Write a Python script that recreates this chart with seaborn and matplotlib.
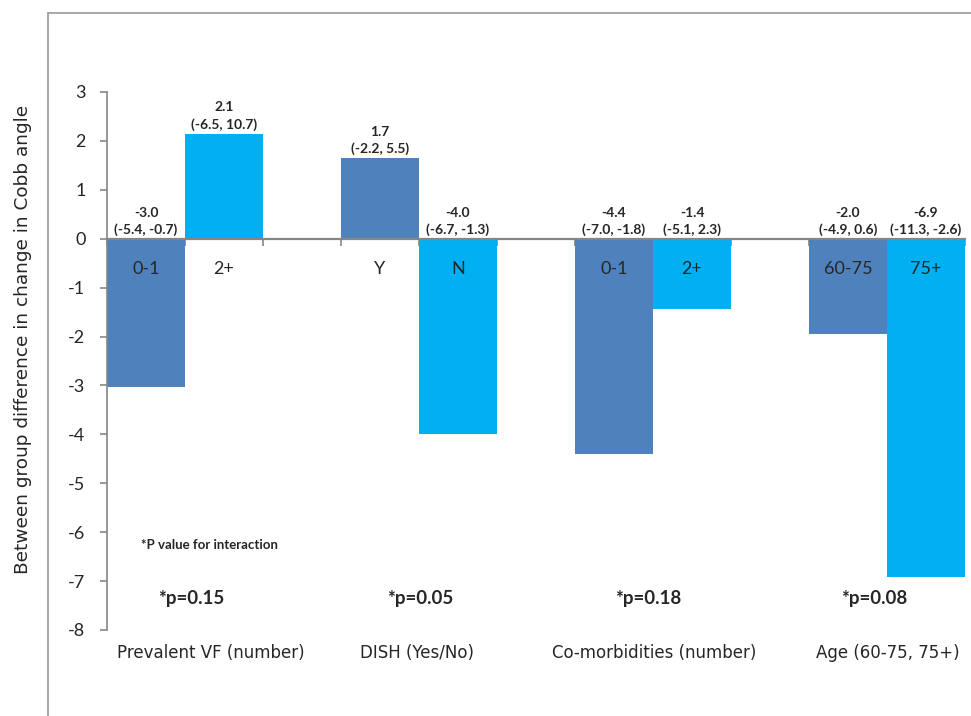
import numpy as np
import pandas as pd
import matplotlib
matplotlib.use("Agg")
import matplotlib.pyplot as plt
from matplotlib.lines import Line2D
import seaborn as sns

# ---- data ----
groups = ["Prevalent VF (number)", "DISH (Yes/No)", "Co-morbidities (number)", "Age (60-75, 75+)"]
levels = [["0-1", "2+"], ["Y", "N"], ["0-1", "2+"], ["60-75", "75+"]]
values = [[-3.03, 2.15], [1.65, -3.99], [-4.40, -1.43], [-1.95, -6.91]]
estimates = [["-3.0", "2.1"], ["1.7", "-4.0"], ["-4.4", "-1.4"], ["-2.0", "-6.9"]]
cis = [["(-5.4, -0.7)", "(-6.5, 10.7)"], ["(-2.2, 5.5)", "(-6.7, -1.3)"],
       ["(-7.0, -1.8)", "(-5.1, 2.3)"], ["(-4.9, 0.6)", "(-11.3, -2.6)"]]
pvalues = ["*p=0.15", "*p=0.05", "*p=0.18", "*p=0.08"]
yticks = list(range(-8, 4))

# layout offsets (pixels) for the text boxes under each group
p_dx = [6, 1, -5, -13]
g_dx = [26, -2, 1, 1]

rows = []
for g, grp in enumerate(groups):
    for k in range(2):
        rows.append(dict(pos=g * 3 + k, value=values[g][k], shade=k,
                         level=levels[g][k], est=estimates[g][k], ci=cis[g][k], group=grp))
df = pd.DataFrame(rows)

sns.set_theme(style="white")
plt.rcParams["font.family"] = ["Lato", "DejaVu Sans"]

fig = plt.figure(figsize=(9.71, 7.16), dpi=100)
ax = fig.add_axes([107 / 971, 1 - 630 / 716, (965 - 107) / 971, (630 - 92) / 716])

sns.barplot(data=df, x="pos", y="value", hue="shade", palette=["#4F81BD", "#00B0F0"],
            native_scale=True, width=1.0, dodge=False, saturation=1, legend=False, ax=ax,
            linewidth=0, errorbar=None)

ax.set_xlim(-0.5, 10.5)
ax.set_ylim(-8, 3)
ax.set_yticks(yticks)
ax.set_yticklabels([str(t) for t in yticks], fontsize=13)
gray = "#868686"
for s in ["top", "right"]:
    ax.spines[s].set_visible(False)
ax.spines["left"].set_color(gray)
ax.spines["left"].set_linewidth(1.2)
ax.spines["bottom"].set_position(("data", 0))
ax.spines["bottom"].set_color(gray)
ax.spines["bottom"].set_linewidth(1.6)
ax.set_xticks(np.arange(-0.5, 11, 1.0))
ax.set_xticklabels([])
ax.tick_params(axis="both", direction="out", length=5, width=1.2, color=gray, left=True, bottom=True)
ax.tick_params(axis="y", pad=10.5)
ax.set_xlabel("")
ax.set_ylabel("Between group difference in change in Cobb angle", fontsize=13.3,
              family="DejaVu Sans")
ax.yaxis.label.set_verticalalignment("center")
ax.yaxis.set_label_coords(-(107 - 23) / 858, (630 - 339) / 538)
ax.grid(False)

for _, r in df.iterrows():
    top = max(r.value, 0)
    ax.annotate(f"{r.est}\n{r.ci}", (r.pos, top), xytext=(0, 2), textcoords="offset points",
                ha="center", va="bottom", fontsize=10, fontweight="bold", linespacing=1.45)
    ax.annotate(r.level, (r.pos, 0), xytext=(0, -22), textcoords="offset points",
                ha="center", va="center", fontsize=13)

px = 72 / 100  # points per pixel
for g in range(len(groups)):
    c = g * 3 + 0.5
    ax.annotate(pvalues[g], (c, -8), xytext=(p_dx[g] * px, 23), textcoords="offset points",
                ha="center", va="center", fontsize=13.5, fontweight="bold")
    ax.annotate(groups[g], (c, -8), xytext=(g_dx[g] * px, -16.5), textcoords="offset points",
                ha="center", va="center", fontsize=12, family="DejaVu Sans",
                annotation_clip=False)

ax.text(-0.064, -6.27, "*P value for interaction",
        fontsize=9.5, fontweight="bold", ha="left", va="center")

fig.add_artist(Line2D([48 / 971, 48 / 971], [0, 1 - 13 / 716], color="#9a9a9a", lw=1.2))
fig.add_artist(Line2D([48 / 971, 1], [1 - 13 / 716, 1 - 13 / 716], color="#9a9a9a", lw=1.2))

fig.savefig("out.png", dpi=100, facecolor="white")
